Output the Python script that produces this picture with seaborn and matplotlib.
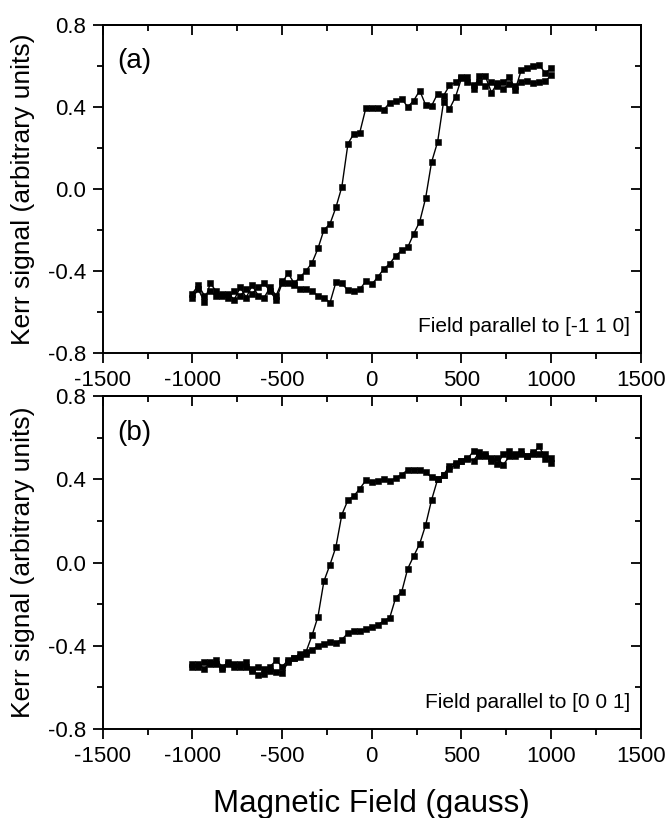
import matplotlib
matplotlib.use("Agg")
import matplotlib.pyplot as plt
import seaborn as sns
import pandas as pd
from matplotlib.ticker import MultipleLocator, NullFormatter, FormatStrFormatter

# Applied field (gauss), same sweep points for both branches and both panels
field = [-1000, -967, -933, -900, -867, -833, -800, -767, -733, -700,
         -667, -633, -600, -567, -533, -500, -467, -433, -400, -367,
         -333, -300, -267, -233, -200, -167, -133, -100, -67, -33,
         0,
         33, 67, 100, 133, 167, 200, 233, 267, 300, 333,
         367, 400, 433, 467, 500, 533, 567, 600, 633, 667,
         700, 733, 767, 800, 833, 867, 900, 933, 967, 1000]

# Panel (a): field parallel to [-1 1 0]
kerr_a_down = [-0.51, -0.47, -0.52, -0.50, -0.52, -0.51, -0.53, -0.50, -0.52, -0.49,
               -0.51, -0.48, -0.46, -0.50, -0.54, -0.46, -0.41, -0.46, -0.43, -0.40,
               -0.36, -0.29, -0.20, -0.17, -0.09, 0.01, 0.22, 0.27, 0.275, 0.395,
               0.395,
               0.395, 0.387, 0.42, 0.43, 0.44, 0.40, 0.43, 0.48, 0.41, 0.405,
               0.465, 0.455, 0.505, 0.52, 0.545, 0.545, 0.49, 0.55, 0.55, 0.47,
               0.515, 0.52, 0.545, 0.485, 0.58, 0.59, 0.60, 0.605, 0.565, 0.59]
kerr_a_up = [-0.53, -0.49, -0.55, -0.46, -0.50, -0.52, -0.51, -0.54, -0.48, -0.53,
             -0.47, -0.52, -0.53, -0.48, -0.52, -0.45, -0.46, -0.47, -0.49, -0.49,
             -0.50, -0.52, -0.53, -0.555, -0.455, -0.46, -0.495, -0.50, -0.49, -0.45,
             -0.465,
             -0.43, -0.39, -0.365, -0.325, -0.30, -0.285, -0.22, -0.16, -0.045, 0.13,
             0.23, 0.425, 0.39, 0.45, 0.54, 0.52, 0.505, 0.52, 0.50, 0.52,
             0.50, 0.49, 0.51, 0.50, 0.52, 0.525, 0.515, 0.52, 0.525, 0.555]

# Panel (b): field parallel to [0 0 1]
kerr_b_down = [-0.49, -0.50, -0.48, -0.49, -0.47, -0.50, -0.48, -0.49, -0.50, -0.48,
               -0.52, -0.54, -0.535, -0.52, -0.525, -0.53, -0.48, -0.46, -0.455, -0.43,
               -0.35, -0.26, -0.09, -0.01, 0.075, 0.23, 0.30, 0.32, 0.355, 0.395,
               0.385,
               0.394, 0.40, 0.39, 0.406, 0.423, 0.445, 0.447, 0.447, 0.434, 0.41,
               0.40, 0.423, 0.463, 0.48, 0.488, 0.496, 0.537, 0.512, 0.52, 0.504,
               0.472, 0.52, 0.537, 0.512, 0.537, 0.512, 0.52, 0.561, 0.496, 0.48]
kerr_b_up = [-0.50, -0.49, -0.51, -0.48, -0.49, -0.51, -0.49, -0.50, -0.49, -0.50,
             -0.51, -0.50, -0.51, -0.50, -0.47, -0.50, -0.47, -0.46, -0.44, -0.44,
             -0.42, -0.40, -0.39, -0.38, -0.385, -0.37, -0.34, -0.33, -0.33, -0.32,
             -0.31,
             -0.30, -0.28, -0.265, -0.17, -0.14, -0.03, 0.03, 0.09, 0.18, 0.30,
             0.40, 0.42, 0.45, 0.47, 0.49, 0.50, 0.49, 0.53, 0.51, 0.49,
             0.50, 0.47, 0.51, 0.52, 0.52, 0.51, 0.53, 0.52, 0.52, 0.50]

panel_tags = ["(a)", "(b)"]
directions = ["Field parallel to [-1 1 0]", "Field parallel to [0 0 1]"]
x_ticks = [-1500, -1000, -500, 0, 500, 1000, 1500]
y_ticks = [-0.8, -0.4, 0.0, 0.4, 0.8]


def style_axes(ax):
    ax.set_xlim(-1500, 1500)
    ax.set_ylim(-0.8, 0.8)
    ax.set_xticks(x_ticks)
    ax.set_yticks(y_ticks)
    ax.yaxis.set_major_formatter(FormatStrFormatter('%.1f'))
    ax.xaxis.set_minor_locator(MultipleLocator(250))
    ax.yaxis.set_minor_locator(MultipleLocator(0.2))
    ax.tick_params(which='major', direction='out', length=7, width=1.3,
                   labelsize=16, pad=5, top=False, right=False, colors='black')
    ax.tick_params(which='minor', direction='out', length=4, width=1.3,
                   top=False, right=False, colors='black')

    # inward ticks on the top and right edges, no labels
    top = ax.secondary_xaxis('top')
    top.set_xticks(x_ticks)
    top.xaxis.set_minor_locator(MultipleLocator(250))
    top.xaxis.set_major_formatter(NullFormatter())
    top.tick_params(which='major', direction='in', length=7, width=1.3, colors='black')
    top.tick_params(which='minor', direction='in', length=4, width=1.3, colors='black')
    right = ax.secondary_yaxis('right')
    right.set_yticks(y_ticks)
    right.yaxis.set_minor_locator(MultipleLocator(0.2))
    right.yaxis.set_major_formatter(NullFormatter())
    right.tick_params(which='major', direction='in', length=7, width=1.3, colors='black')
    right.tick_params(which='minor', direction='in', length=4, width=1.3, colors='black')
    for sec in (top, right):
        for sp in sec.spines.values():
            sp.set_linewidth(1.4)
            sp.set_color('black')
    for sp in ax.spines.values():
        sp.set_linewidth(1.4)
        sp.set_color('black')


def main():
    sns.set_theme(style="ticks")
    plt.rcParams['font.family'] = ['Liberation Sans', 'DejaVu Sans']
    plt.rcParams['axes.unicode_minus'] = False
    plt.rcParams.update({'text.color': 'black', 'axes.labelcolor': 'black',
                         'xtick.color': 'black', 'ytick.color': 'black',
                         'axes.edgecolor': 'black'})

    rows = []
    for panel, down, up in [("a", kerr_a_down, kerr_a_up), ("b", kerr_b_down, kerr_b_up)]:
        for branch, vals in [("down", down), ("up", up)]:
            for f, k in zip(field, vals):
                rows.append({"panel": panel, "branch": branch, "field": f, "kerr": k})
    df = pd.DataFrame(rows)

    fig = plt.figure(figsize=(6.69, 8.18), dpi=100)
    ax_a = fig.add_axes([0.1535, 0.5685, 0.8045, 0.401])
    ax_b = fig.add_axes([0.1535, 0.1088, 0.8045, 0.407])

    for i, (ax, panel) in enumerate([(ax_a, "a"), (ax_b, "b")]):
        sub = df[df["panel"] == panel]
        sns.lineplot(data=sub, x="field", y="kerr", units="branch", estimator=None,
                     sort=False, color="black", linewidth=1.0, marker="s",
                     markersize=4, markeredgecolor="black", markeredgewidth=0.4,
                     ax=ax)
        style_axes(ax)
        ax.set_ylabel("Kerr signal (arbitrary units)", fontsize=19, color='black')
        ax.yaxis.set_label_coords(-0.126, 0.5)
        ax.set_xlabel("")
        ax.text(0.027, 0.89, panel_tags[i], transform=ax.transAxes,
                fontsize=20, ha='left', va='center', color='black')
        ax.text(0.98, 0.08, directions[i], transform=ax.transAxes,
                fontsize=15, ha='right', va='center', color='black')

    ax_b.set_xlabel("Magnetic Field (gauss)", fontsize=22.5, color='black')
    ax_b.xaxis.set_label_coords(0.5, -0.18)

    fig.savefig("out.png", dpi=100)
    plt.close(fig)


if __name__ == "__main__":
    main()
